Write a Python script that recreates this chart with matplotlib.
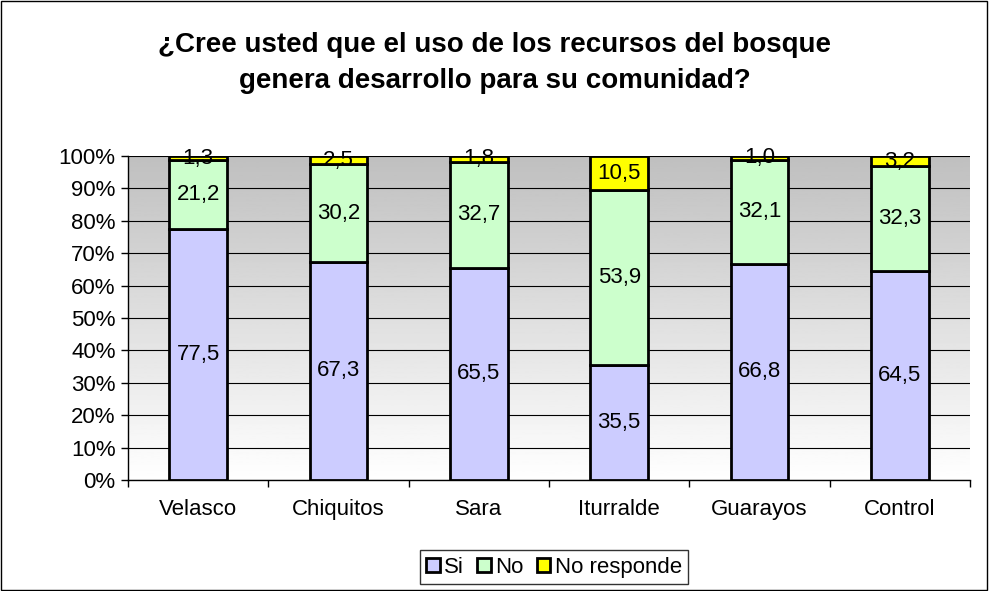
import numpy as np
import matplotlib.pyplot as plt
from matplotlib.patches import Rectangle

categories = ["Velasco", "Chiquitos", "Sara", "Iturralde", "Guarayos", "Control"]
si = [77.5, 67.3, 65.5, 35.5, 66.8, 64.5]
no = [21.2, 30.2, 32.7, 53.9, 32.1, 32.3]
no_responde = [1.3, 2.5, 1.8, 10.5, 1.0, 3.2]

series = [("Si", si, "#CCCCFF"), ("No", no, "#CCFFCC"), ("No responde", no_responde, "#FFFF00")]

plt.rcParams['font.family'] = ['Liberation Sans', 'DejaVu Sans']

fig = plt.figure(figsize=(9.89, 5.91), dpi=100)
ax = fig.add_axes([128 / 989, 1 - 480 / 591, 842 / 989, 324 / 591])

# gradient background, grey at top fading to white
grad = np.linspace(1.0, 0.75, 256).reshape(-1, 1)
ax.imshow(grad, cmap="gray", vmin=0, vmax=1, aspect="auto",
          extent=[-0.5, len(categories) - 0.5, 0, 100], origin="lower", zorder=0)

x = np.arange(len(categories))
bottom = np.zeros(len(categories))
for name, vals, color in series:
    vals = np.array(vals)
    ax.bar(x, vals, 0.41, bottom=bottom, color=color, edgecolor="black",
           linewidth=2, label=name, zorder=3)
    for xi, b, v in zip(x, bottom, vals):
        ax.text(xi, b + v / 2, f"{v:.1f}".replace(".", ","), ha="center",
                va="center", fontsize=16, zorder=4)
    bottom += vals

ax.set_xlim(-0.5, len(categories) - 0.5)
ax.set_ylim(0, 100)
ax.set_yticks(np.arange(0, 101, 10))
ax.set_yticklabels([f"{v}%" for v in range(0, 101, 10)], fontsize=16)
ax.yaxis.grid(True, color="black", linewidth=0.8, zorder=1)
ax.set_axisbelow(True)
ax.set_xticks(x)
ax.set_xticklabels(categories, fontsize=16)
ax.tick_params(axis="x", length=0, pad=14)
ax.set_xticks(np.arange(-0.5, len(categories)), minor=True)
ax.tick_params(axis="x", which="minor", length=5, width=1)
ax.tick_params(axis="y", length=5, width=1, direction="out", pad=4)
for s in ["top", "right"]:
    ax.spines[s].set_visible(False)
for s in ["left", "bottom"]:
    ax.spines[s].set_linewidth(1)

fig.text(0.5, 1 - 63 / 591,
         "¿Cree usted que el uso de los recursos del bosque\ngenera desarrollo para su comunidad?",
         ha="center", va="center", fontsize=20, fontweight="bold", linespacing=1.55)

leg = fig.legend(loc="lower center", bbox_to_anchor=(554 / 989, 0.004), ncol=3,
                 fontsize=16, frameon=True, fancybox=False, edgecolor="black",
                 handlelength=0.6, handleheight=0.6, handletextpad=0.2,
                 columnspacing=0.6, borderpad=0.3, borderaxespad=0.2)
leg.get_frame().set_linewidth(1)

fig.patches.append(Rectangle((0.001, 0.001), 0.997, 0.997, transform=fig.transFigure,
                             fill=False, edgecolor="black", linewidth=1))

fig.savefig("out.png", dpi=100)
